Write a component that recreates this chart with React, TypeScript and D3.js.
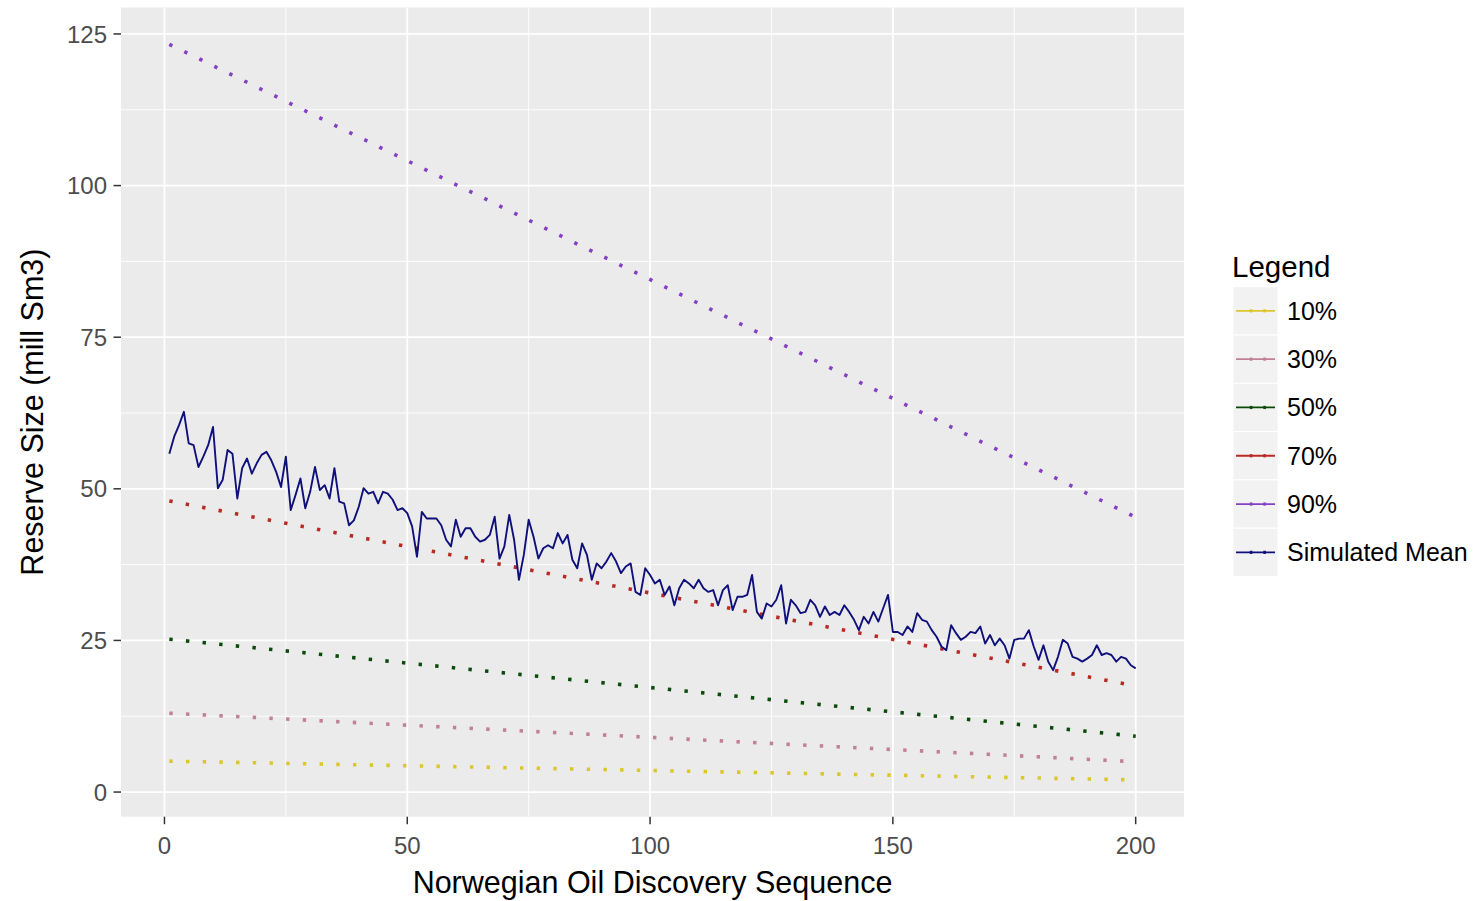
import React from 'react';
import * as d3 from 'd3';

// series
const seriesNames = ['10%', '30%', '50%', '70%', '90%', 'Simulated Mean'];
const seriesColors = ['#DCC62E', '#C08195', '#0A4A0A', '#B82A24', '#8440C2', '#10107A'];

// percentile lines are straight: value at first and last discovery
const pctStart = [5.1, 13.0, 25.2, 48.0, 123.3];
const pctEnd = [2.0, 5.0, 9.2, 17.5, 45.3];
const firstDiscovery = 1;
const lastDiscovery = 200;

const meanValues = [
  55.8, 58.6, 60.5, 62.7, 57.5, 57.2, 53.6, 55.3, 57.2, 60.2,
  50.1, 51.5, 56.4, 55.8, 48.4, 53.4, 55.0, 52.5, 54.2, 55.6,
  56.1, 54.7, 52.8, 50.3, 55.3, 46.5, 49.0, 51.7, 46.8, 49.5,
  53.6, 49.8, 50.6, 48.4, 53.4, 47.9, 47.6, 44.0, 44.8, 47.0,
  50.1, 49.2, 49.5, 47.6, 49.5, 49.2, 48.2, 46.5, 46.8, 46.0,
  43.8, 38.8, 46.2, 45.1, 45.1, 45.1, 44.0, 41.6, 40.5, 44.9,
  42.1, 43.5, 43.5, 42.1, 41.3, 41.6, 42.4, 45.4, 38.5, 40.5,
  45.7, 41.6, 35.0, 39.1, 44.9, 42.1, 38.5, 40.2, 40.7, 40.2,
  42.7, 41.0, 42.4, 38.3, 36.9, 41.0, 39.1, 35.0, 37.7, 36.9,
  38.0, 39.4, 38.0, 36.1, 37.2, 37.7, 33.0, 32.5, 36.9, 35.8,
  34.4, 35.0, 32.5, 33.9, 30.8, 33.6, 35.0, 34.4, 33.6, 35.0,
  33.6, 33.0, 33.3, 30.8, 33.3, 34.1, 30.0, 32.2, 32.2, 32.5,
  35.8, 29.7, 28.6, 31.1, 30.6, 31.7, 34.1, 27.8, 31.7, 30.8,
  29.5, 29.7, 31.7, 30.8, 28.9, 30.6, 29.2, 29.7, 29.2, 30.8,
  29.7, 28.4, 26.7, 28.9, 27.8, 29.7, 28.1, 30.3, 32.5, 26.4,
  26.4, 25.9, 27.3, 26.4, 29.5, 28.4, 28.1, 26.7, 25.6, 24.0,
  23.4, 27.5, 26.2, 25.1, 25.6, 26.4, 26.2, 27.3, 24.5, 25.9,
  24.2, 25.3, 24.2, 22.0, 25.1, 25.3, 25.3, 26.7, 24.0, 21.8,
  24.2, 21.5, 20.1, 22.3, 25.1, 24.5, 22.3, 22.0, 21.5, 22.0,
  22.6, 24.2, 22.6, 22.9, 22.6, 21.5, 22.3, 22.0, 20.9, 20.4,
];

const xTicks = [0, 50, 100, 150, 200];
const yTicks = [0, 25, 50, 75, 100, 125];
const xMinor = [25, 75, 125, 175];
const yMinor = [12.5, 37.5, 62.5, 87.5, 112.5];

const W = 1475;
const H = 901;
const panel = { left: 121, right: 1184, top: 7.5, bottom: 816.7 };
const font = "'Liberation Sans', Arial, sans-serif";

// ggplot-like 5% expansion
function expand(lo: number, hi: number) {
  const pad = (hi - lo) * 0.05;
  return [lo - pad, hi + pad];
}

export default function App() {
  const allY = [...meanValues, ...pctStart, ...pctEnd];
  const x = d3
    .scaleLinear()
    .domain(expand(firstDiscovery, lastDiscovery))
    .range([panel.left, panel.right]);
  const y = d3
    .scaleLinear()
    .domain(expand(d3.min(allY)!, d3.max(allY)!))
    .range([panel.bottom, panel.top]);

  const line = d3
    .line<[number, number]>()
    .x((d) => x(d[0]))
    .y((d) => y(d[1]));

  const meanPts: [number, number][] = meanValues.map((v, i) => [i + 1, v]);

  const legendX = 1233;
  const keyW = 45;
  const keyH = 48.3;
  const keyTop = 286.7;

  return (
    <svg
      width={W}
      height={H}
      style={{ position: 'absolute', left: 0, top: 0, background: '#fff' }}
      fontFamily={font}
    >
      <rect x={panel.left} y={panel.top} width={panel.right - panel.left} height={panel.bottom - panel.top} fill="#EBEBEB" />
      {/* minor grid */}
      {xMinor.map((t) => (
        <line key={'xm' + t} x1={x(t)} x2={x(t)} y1={panel.top} y2={panel.bottom} stroke="#fff" strokeWidth={0.9} />
      ))}
      {yMinor.map((t) => (
        <line key={'ym' + t} x1={panel.left} x2={panel.right} y1={y(t)} y2={y(t)} stroke="#fff" strokeWidth={0.9} />
      ))}
      {/* major grid */}
      {xTicks.map((t) => (
        <line key={'xg' + t} x1={x(t)} x2={x(t)} y1={panel.top} y2={panel.bottom} stroke="#fff" strokeWidth={1.8} />
      ))}
      {yTicks.map((t) => (
        <line key={'yg' + t} x1={panel.left} x2={panel.right} y1={y(t)} y2={y(t)} stroke="#fff" strokeWidth={1.8} />
      ))}

      {/* percentile lines, dotted */}
      {pctStart.map((s, i) => (
        <path
          key={seriesNames[i]}
          d={line([[firstDiscovery, s], [lastDiscovery, pctEnd[i]]])!}
          fill="none"
          stroke={seriesColors[i]}
          strokeWidth={3.6}
          strokeDasharray="3.4 13.3"
        />
      ))}
      {/* simulated mean */}
      <path d={line(meanPts)!} fill="none" stroke={seriesColors[5]} strokeWidth={1.9} strokeLinejoin="round" />

      {/* axes ticks */}
      {xTicks.map((t) => (
        <g key={'xt' + t}>
          <line x1={x(t)} x2={x(t)} y1={panel.bottom} y2={panel.bottom + 7.5} stroke="#333" strokeWidth={1.5} />
          <text x={x(t)} y={854} textAnchor="middle" fontSize={24} fill="#4D4D4D">
            {t}
          </text>
        </g>
      ))}
      {yTicks.map((t) => (
        <g key={'yt' + t}>
          <line x1={panel.left - 7.5} x2={panel.left} y1={y(t)} y2={y(t)} stroke="#333" strokeWidth={1.5} />
          <text x={panel.left - 14} y={y(t) + 8.6} textAnchor="end" fontSize={24} fill="#4D4D4D">
            {t}
          </text>
        </g>
      ))}

      {/* axis titles */}
      <text x={(panel.left + panel.right) / 2} y={893} textAnchor="middle" fontSize={30.5} fill="#000">
        Norwegian Oil Discovery Sequence
      </text>
      <text
        transform={`translate(43,${(panel.top + panel.bottom) / 2}) rotate(-90)`}
        textAnchor="middle"
        fontSize={30.5}
        fill="#000"
      >
        Reserve Size (mill Sm3)
      </text>

      {/* legend */}
      <text x={legendX - 1} y={276.5} fontSize={29.5} fill="#000">
        Legend
      </text>
      {seriesNames.map((name, i) => {
        const top = keyTop + i * keyH;
        const cy = top + keyH / 2;
        return (
          <g key={'lg' + name}>
            <rect x={legendX} y={top} width={keyW} height={keyH} fill="#F2F2F2" stroke="#fff" strokeWidth={1} />
            <line x1={legendX + 3} x2={legendX + keyW - 3} y1={cy} y2={cy} stroke={seriesColors[i]} strokeWidth={1.8} />
            {[0.4, 0.7].map((f) => (
              <rect key={f} x={legendX + keyW * f - 1.2} y={cy - 1.6} width={2.6} height={3.2} fill={seriesColors[i]} />
            ))}
            <text x={legendX + 54} y={cy + 8.8} fontSize={25} fill="#000">
              {name}
            </text>
          </g>
        );
      })}
    </svg>
  );
}
